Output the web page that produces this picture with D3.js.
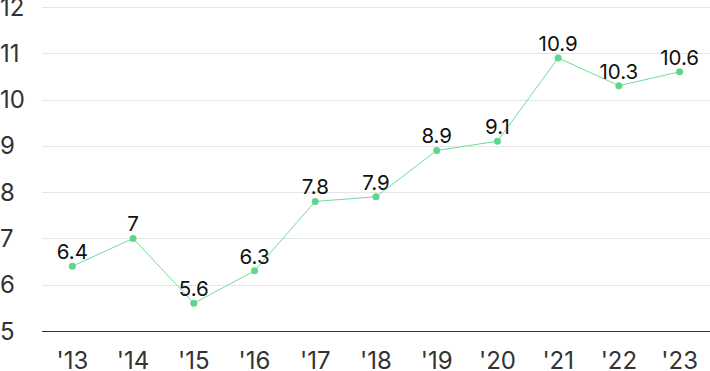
<!DOCTYPE html>
<html lang="ko">
<head>
  <meta charset="UTF-8">
  <title>Line chart</title>
  <script src="https://d3js.org/d3.v7.min.js"></script>
  <style>
    body { margin: 0; background: #fff; font-family: Inter, 'Noto Sans CJK KR', sans-serif; }
    svg { display: block; }
    .ylab { font-size: 24px; fill: #333; }
    .xlab { font-size: 24px; fill: #333; }
    .val { font-size: 20.5px; fill: #111; text-anchor: middle; }
  </style>
</head>
<body>
  <svg width="710" height="371"></svg>
  <script>
    const years = ["'13", "'14", "'15", "'16", "'17", "'18", "'19", "'20", "'21", "'22", "'23"];
    const values = [6.4, 7, 5.6, 6.3, 7.8, 7.9, 8.9, 9.1, 10.9, 10.3, 10.6];
    const yTicks = [5, 6, 7, 8, 9, 10, 11, 12];

    const svg = d3.select("svg");
    const plotLeft = 42, plotRight = 710, plotTop = 7, plotBottom = 331;

    const x = d3.scaleBand().domain(years).range([plotLeft, plotRight]);
    const y = d3.scaleLinear().domain([5, 12]).range([plotBottom, plotTop]);
    const cx = d => x(d) + x.bandwidth() / 2;

    // gridlines, the 5 line is the dark baseline
    svg.append("g").selectAll("line")
      .data(yTicks)
      .enter().append("line")
      .attr("x1", plotLeft).attr("x2", plotRight)
      .attr("y1", d => Math.round(y(d)) + 0.5).attr("y2", d => Math.round(y(d)) + 0.5)
      .attr("stroke", d => d === 5 ? "#333" : "#e6e6e6")
      .attr("stroke-width", 1);

    svg.append("g").selectAll("text")
      .data(yTicks)
      .enter().append("text")
      .attr("class", "ylab")
      .attr("x", 0)
      .attr("y", d => y(d))
      .attr("dy", "0.36em")
      .text(d => d);

    svg.append("g").selectAll("text")
      .data(years)
      .enter().append("text")
      .attr("class", "xlab")
      .attr("x", d => cx(d))
      .attr("y", 369)
      .attr("text-anchor", "middle")
      .text(d => d);

    const pts = years.map((yr, i) => ({ yr, v: values[i] }));

    svg.append("path")
      .datum(pts)
      .attr("fill", "none")
      .attr("stroke", "#6fdc97")
      .attr("stroke-width", 1)
      .attr("d", d3.line().x(d => cx(d.yr)).y(d => y(d.v)));

    svg.append("g").selectAll("circle")
      .data(pts)
      .enter().append("circle")
      .attr("cx", d => cx(d.yr))
      .attr("cy", d => y(d.v))
      .attr("r", 3.5)
      .attr("fill", "#5fd68a");

    svg.append("g").selectAll("text")
      .data(pts)
      .enter().append("text")
      .attr("class", "val")
      .attr("x", d => cx(d.yr))
      .attr("y", d => y(d.v) - 7)
      .text(d => d.v);
  </script>
</body>
</html>
